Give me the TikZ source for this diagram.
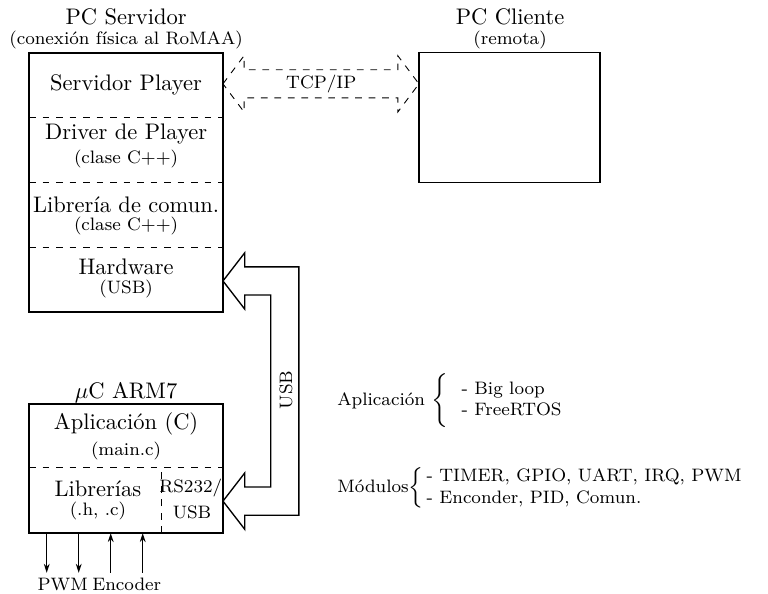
\documentclass[tikz,border=0pt]{standalone}
\usepackage{fontspec}
\usetikzlibrary{arrows.meta}
\begin{document}
\begin{tikzpicture}[
		box/.style={rectangle, draw, semithick, outer sep=0pt},
		note/.style={font=\footnotesize},
		sig/.style={semithick, -{Stealth[length=1.4mm, width=0.9mm]}},
		every node/.style={inner sep=1pt}
	]
		\useasboundingbox (0,0) rectangle (12,-9.266);

		% PC Servidor
		\node[box, minimum width=3.03cm, minimum height=4.05cm] (srv) at (1.969,-2.852) {};
		\node (srvtit) at (1.97,-0.27) {PC Servidor};
		\node[note] (srvsub) at (1.97,-0.62) {(conexión física al RoMAA)};
		\node (play) at (1.97,-1.33) {Servidor Player};
		\node (drv) at (1.97,-2.09) {Driver de Player};
		\node[note] (drvsub) at (1.97,-2.48) {(clase C++)};
		\node (lib) at (1.97,-3.20) {Librería de comun.};
		\node[note] (libsub) at (1.97,-3.53) {(clase C++)};
		\node (hw) at (1.97,-4.17) {Hardware};
		\node[note] (hwsub) at (1.97,-4.51) {(USB)};
		\draw[dashed] (srv.west |- 0,-1.828) -- (srv.east |- 0,-1.828);
		\draw[dashed] (srv.west |- 0,-2.844) -- (srv.east |- 0,-2.844);
		\draw[dashed] (srv.west |- 0,-3.859) -- (srv.east |- 0,-3.859);

		% PC Cliente
		\node[box, minimum width=2.83cm, minimum height=2.03cm] (cli) at (7.96,-1.84) {};
		\node (clitit) at (7.97,-0.27) {PC Cliente};
		\node[note] (clisub) at (7.97,-0.62) {(remota)};

		% TCP/IP link
		\node[note] (tcp) at (5.02,-1.31) {TCP/IP};
		\draw[dashed] (srv.east |- tcp) -- ++(0.33,0.44) -- ++(0,-0.22) -- ++(2.402,0)
			-- ++(0,0.22) -- ++(0.33,-0.44) -- ++(-0.33,-0.44) -- ++(0,0.22)
			-- ++(-2.402,0) -- ++(0,-0.22) -- cycle;

		% uC ARM7
		\node[box, minimum width=3.03cm, minimum height=2.02cm] (arm) at (1.969,-7.32) {};
		\node (armtit) at (1.97,-6.14) {$\mu$C ARM7};
		\node (app) at (1.97,-6.63) {Aplicación (C)};
		\node[note] (appsub) at (1.97,-7.05) {(main.c)};
		\node (libs) at (1.53,-7.63) {Librerías};
		\node[note] (libssub) at (1.53,-7.98) {(.h, .c)};
		\node[note] (rs) at (2.98,-7.63) {RS232/};
		\node[note] (rsusb) at (3.0,-8.0) {USB};
		\draw[dashed] (arm.west |- 0,-7.31) -- (arm.east |- 0,-7.31);
		\draw[dashed] (arm.south -| 2.53,0) -- (2.53,-7.31);

		% USB link
		\draw[semithick] (srv.east |- 0,-4.39) -- ++(0.34,0.44) -- ++(0,-0.22) -- ++(0.846,0)
			-- ++(0,-3.88) -- ++(-0.846,0) -- ++(0,-0.22) -- ++(-0.34,0.44)
			-- ++(0.34,0.44) -- ++(0,-0.22) -- ++(0.406,0) -- ++(0,3.0)
			-- ++(-0.406,0) -- ++(0,-0.22) -- cycle;
		\node[note, rotate=90] (usb) at (4.47,-6.09) {USB};

		% PWM / Encoder lines
		\foreach \x in {0.73,1.23}
			\draw[sig] (arm.south -| \x,0) -- ++(0,-0.62);
		\foreach \x in {1.73,2.23}
			\draw[sig] (arm.south -| \x,0) ++(0,-0.62) -- (arm.south -| \x,0);
		\node[note] (pwm) at (0.98,-9.13) {PWM};
		\node[note] (enc) at (1.98,-9.13) {Encoder};

		% Notes
		\node[note, anchor=west] (aplnote) at (5.23,-6.26)
			{Aplicación~$\left\{\rule[-0.3cm]{0pt}{0.66cm}\begin{tabular}{l}- Big loop\\- FreeRTOS\end{tabular}\right.$};
		\node[note, anchor=west] (modnote) at (5.23,-7.63)
			{Módulos$\left\{\begin{tabular}{@{\,}l}- TIMER, GPIO, UART, IRQ, PWM\\- Enconder, PID, Comun.\end{tabular}\right.$};
	\end{tikzpicture}
\end{document}
